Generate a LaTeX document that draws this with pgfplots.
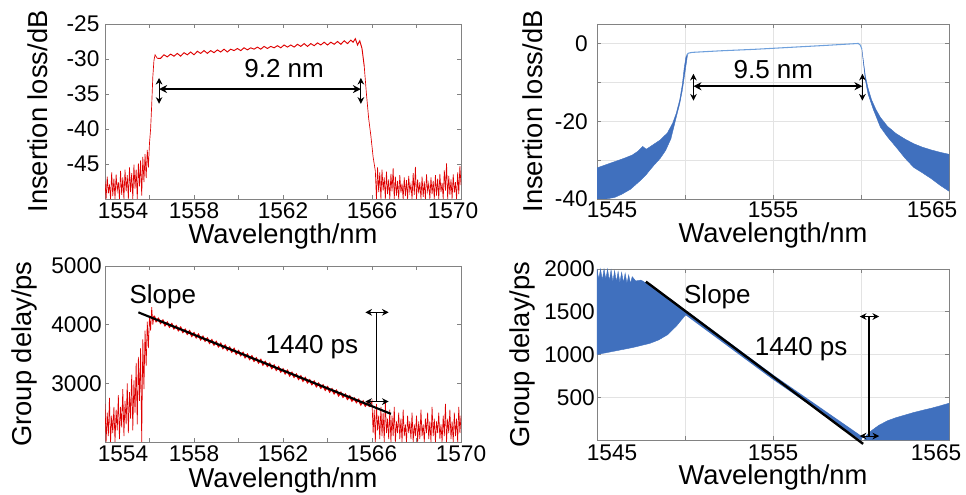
\documentclass[border=0pt]{standalone}
\usepackage{fontspec}
\setmainfont{Liberation Sans}
\usepackage{pgfplots}
\pgfplotsset{compat=1.18}
\usetikzlibrary{arrows.meta}
\definecolor{myred}{RGB}{222,0,0}
\definecolor{myblue}{RGB}{64,112,190}
\definecolor{lightblue}{RGB}{110,160,220}
\definecolor{frame}{RGB}{130,130,130}
\pgfplotsset{
  base/.style={
    scale only axis, anchor=south west,
    /pgf/number format/assume math mode=true,
    /pgf/number format/1000 sep={},
    tick align=inside, major tick length=3pt, minor tick length=3pt,
    axis line style={frame, line width=0.6pt},
    every tick/.style={frame, line width=0.5pt},
    tick label style={font=\fontsize{17}{20}\selectfont},
    label style={font=\fontsize{20.5}{23}\selectfont},
    yticklabel style={anchor=east, inner sep=0pt},
    xticklabel style={anchor=base, inner sep=0pt},
    scaled ticks=false,
  },
}
\tikzset{ann/.style={font=\fontsize{19.5}{22}\selectfont},
  dbl/.style={line width=0.8pt, {Stealth[length=5pt,width=5pt]}-{Stealth[length=5pt,width=5pt]}}}
\begin{document}
\begin{tikzpicture}
% ---------------- Top left: insertion loss (red)
\begin{axis}[base, at={(78.75pt,222pt)}, width=267pt, height=131.25pt,
  xmin=1554, xmax=1570, ymin=-50, ymax=-25,
  xtick={1554,1558,1562,1566,1570}, minor xtick={1556,1560,1564,1568},
  xticklabels={\hspace*{27pt}1554,1558,1562,1566,1570\hspace*{12pt}},
  ytick={-45,-40,-35,-30,-25},
  xticklabel style={yshift=-15pt}, yticklabel style={xshift=-4pt},
  xlabel={Wavelength/nm}, ylabel={Insertion loss/dB},
  xlabel style={at={(axis description cs:0.5,0)}, anchor=base, yshift=-33.75pt},
  ylabel style={at={(axis description cs:-0.188,0.5)}, anchor=center},
]
\addplot[myred, line width=0.5pt] coordinates {
(1554.00,-47.5)(1554.05,-50)(1554.10,-46.8)(1554.15,-49.2)(1554.20,-47.9)(1554.25,-50)
(1554.30,-46.2)(1554.35,-49.6)(1554.40,-47.1)(1554.45,-50)(1554.50,-46.5)(1554.55,-48.8)
(1554.60,-47.6)(1554.65,-50)(1554.70,-46.0)(1554.75,-49.4)(1554.80,-46.9)(1554.85,-50)
(1554.90,-45.8)(1554.95,-48.9)(1555.00,-46.6)(1555.05,-50)(1555.10,-45.5)(1555.15,-49.0)
(1555.20,-46.3)(1555.25,-50)(1555.30,-45.1)(1555.35,-48.5)(1555.40,-45.8)(1555.45,-50)
(1555.50,-44.9)(1555.55,-48.2)(1555.60,-44.5)(1555.65,-49.5)(1555.70,-44.0)(1555.75,-47.6)
(1555.80,-43.6)(1555.85,-47.0)(1555.90,-43.0)(1555.95,-45.5)(1556.00,-42.0)(1556.05,-40.0)
(1556.10,-36.5)(1556.15,-32.5)(1556.20,-30.2)(1556.25,-29.4)(1556.35,-29.9)
};
\addplot[myred, line width=0.7pt] coordinates {
(1556.35,-29.9)(1556.50,-29.9)(1556.65,-29.4)(1556.80,-29.7)(1556.95,-29.3)(1557.10,-29.6)(1557.25,-29.2)
(1557.40,-29.6)(1557.55,-29.1)(1557.70,-29.4)(1557.85,-29.0)(1558.00,-29.4)(1558.15,-28.9)
(1558.30,-29.2)(1558.45,-28.8)(1558.60,-29.2)(1558.75,-28.8)(1558.90,-29.1)(1559.05,-28.7)
(1559.20,-29.0)(1559.35,-28.6)(1559.50,-29.0)(1559.65,-28.6)(1559.80,-28.8)(1559.95,-28.5)
(1560.10,-28.8)(1560.25,-28.4)(1560.40,-28.7)(1560.55,-28.4)(1560.70,-28.6)(1560.85,-28.3)
(1561.00,-28.6)(1561.15,-28.2)(1561.30,-28.5)(1561.45,-28.2)(1561.60,-28.4)(1561.75,-28.1)
(1561.90,-28.4)(1562.05,-28.0)(1562.20,-28.3)(1562.35,-28.0)(1562.50,-28.3)(1562.65,-27.9)
(1562.80,-28.2)(1562.95,-27.8)(1563.10,-28.2)(1563.25,-27.8)(1563.40,-28.1)(1563.55,-27.7)
(1563.70,-28.0)(1563.85,-27.6)(1564.00,-28.0)(1564.15,-27.6)(1564.30,-27.9)(1564.45,-27.5)
(1564.60,-27.9)(1564.75,-27.4)(1564.90,-27.8)(1565.05,-27.3)(1565.15,-27.6)(1565.25,-27.1)
(1565.35,-28.0)(1565.45,-27.4)(1565.55,-28.5)(1565.65,-31)
};
\addplot[myred, line width=0.5pt] coordinates {
(1565.65,-31)(1565.75,-35)(1565.85,-38.5)
(1565.95,-41)(1566.05,-44)(1566.15,-46)(1566.20,-50)
(1566.25,-45.5)(1566.30,-49.0)(1566.35,-46.2)(1566.40,-50)(1566.45,-45.8)(1566.50,-48.8)
(1566.55,-46.9)(1566.60,-50)(1566.65,-46.1)(1566.70,-49.3)(1566.75,-47.2)(1566.80,-50)
(1566.85,-46.4)(1566.90,-48.9)(1566.95,-45.6)(1567.00,-50)(1567.05,-46.8)(1567.10,-49.5)
(1567.15,-47.4)(1567.20,-50)(1567.25,-46.6)(1567.30,-49.1)(1567.35,-47.8)(1567.40,-50)
(1567.45,-46.9)(1567.50,-49.6)(1567.55,-47.3)(1567.60,-50)(1567.65,-46.7)(1567.70,-49.0)
(1567.75,-47.9)(1567.80,-50)(1567.85,-46.3)(1567.90,-49.4)(1567.95,-45.4)(1568.00,-50)
(1568.05,-47.2)(1568.10,-49.2)(1568.15,-47.6)(1568.20,-50)(1568.25,-46.8)(1568.30,-49.7)
(1568.35,-47.5)(1568.40,-50)(1568.45,-46.5)(1568.50,-48.9)(1568.55,-47.8)(1568.60,-50)
(1568.65,-46.9)(1568.70,-49.3)(1568.75,-47.4)(1568.80,-50)(1568.85,-46.6)(1568.90,-49.5)
(1568.95,-47.1)(1569.00,-50)(1569.05,-46.4)(1569.10,-49.0)(1569.15,-47.7)(1569.20,-50)
(1569.25,-45.9)(1569.30,-48.8)(1569.35,-44.9)(1569.40,-50)(1569.45,-46.7)(1569.50,-49.4)
(1569.55,-47.2)(1569.60,-50)(1569.65,-46.5)(1569.70,-49.1)(1569.75,-47.6)(1569.80,-50)
(1569.85,-46.2)(1569.90,-49.3)(1569.95,-45.3)(1570.00,-48.0)
};
\draw[line width=1.8pt, {Stealth[length=6pt,width=6pt]}-{Stealth[length=6pt,width=6pt]}] (axis cs:1556.43,-34.3) -- (axis cs:1565.5,-34.3);
\draw[dbl] (axis cs:1556.43,-32.7) -- (axis cs:1556.43,-36.4);
\draw[dbl] (axis cs:1565.5,-32.7) -- (axis cs:1565.5,-36.4);
\node[ann] at (axis cs:1562.05,-31.3) {9.2 nm};
\end{axis}
% ---------------- Top right: insertion loss (blue)
\begin{axis}[base, at={(447.75pt,222pt)}, width=264pt, height=131.25pt,
  xmin=1545, xmax=1565, ymin=-40, ymax=5,
  xtick={1545,1550,1555,1560,1565}, xticklabels={\hspace*{22.5pt}1545,,1555,,1565\hspace*{25.5pt}},
  ytick={-40,-30,-20,-10,0}, yticklabels={-40,,-20,,0},
  grid=major, grid style={gray!22, line width=0.5pt},
  xticklabel style={yshift=-14.25pt}, yticklabel style={xshift=-6.75pt},
  xlabel={Wavelength/nm}, ylabel={Insertion loss/dB},
  xlabel style={at={(axis description cs:0.5,0)}, anchor=base, yshift=-32.6pt},
  ylabel style={at={(axis description cs:-0.182,0.5)}, anchor=center},
]
\addplot[myblue, fill=myblue, line width=0.3pt] coordinates {
(1545,-32)(1545.5,-31.2)(1546,-30.4)(1546.5,-29.6)(1547,-28.7)(1547.3,-27.8)(1547.6,-26.5)
(1547.8,-27.2)(1548.2,-26.0)(1548.6,-24.8)(1549,-23)(1549.3,-20.5)(1549.5,-18)(1549.7,-14.5)
(1549.85,-10.5)(1549.95,-6.5)(1550.05,-3.5)(1550.15,-2.7)
(1549.85,-12)(1549.7,-15.5)(1549.5,-19)(1549.2,-24.5)(1548.9,-27.5)(1548.6,-29.5)
(1548.2,-31.5)(1547.8,-33.7)(1547.4,-35.5)(1546.9,-37.5)(1546.4,-38.8)(1546,-39.6)
(1545.5,-40)(1545,-40)
} -- cycle;
\addplot[myblue, fill=myblue, line width=0.3pt] coordinates {
(1560.05,-1.5)(1560.15,-5)(1560.25,-8.5)(1560.4,-11.5)(1560.6,-14.5)(1560.85,-17)
(1561.1,-19)(1561.5,-21.3)(1562,-23.2)(1562.5,-24.6)(1563,-25.8)(1563.5,-26.7)
(1564,-27.4)(1564.5,-28)(1565,-28.5)
(1565,-38)(1564.5,-36.5)(1564,-34.8)(1563.5,-33.3)(1563,-31.9)(1562.5,-29.5)
(1562,-26.7)(1561.5,-24)(1561.1,-21.5)(1560.7,-17)(1560.4,-13)(1560.25,-9.5)
} -- cycle;
\addplot[lightblue, line width=0.8pt] coordinates {
(1550.1,-3.0)(1550.2,-2.5)(1550.4,-2.3)(1552,-1.9)(1554,-1.5)(1556,-1.0)(1558,-0.5)
(1559.5,-0.1)(1559.85,0)(1559.97,-0.5)(1560.05,-1.5)
};
\draw[line width=1.8pt, {Stealth[length=6pt,width=6pt]}-{Stealth[length=6pt,width=6pt]}] (axis cs:1550.48,-11) -- (axis cs:1560.08,-11);
\draw[dbl] (axis cs:1550.48,-7.8) -- (axis cs:1550.48,-14.7);
\draw[dbl] (axis cs:1560.08,-7.8) -- (axis cs:1560.08,-14.7);
\node[ann] at (axis cs:1555.02,-6.7) {9.5 nm};
\end{axis}
% ---------------- Bottom left: group delay (red)
\begin{axis}[base, at={(78.75pt,39.75pt)}, width=267pt, height=132pt,
  xmin=1554, xmax=1570, ymin=2000, ymax=5000,
  xtick={1554,1558,1562,1566,1570}, minor xtick={1556,1560,1564,1568},
  xticklabels={\hspace*{27pt}1554,1558,1562,1566,1570},
  ytick={3000,4000,5000},
  xticklabel style={yshift=-15pt}, yticklabel style={xshift=-2.25pt},
  xlabel={Wavelength/nm}, ylabel={Group delay/ps},
  xlabel style={at={(axis description cs:0.5,0)}, anchor=base, yshift=-34pt},
  ylabel style={at={(axis description cs:-0.225,0.5)}, anchor=center},
]
\addplot[myred, line width=0.5pt] coordinates {
(1554.00,2650)(1554.05,2000)(1554.10,2500)(1554.15,2100)(1554.20,2750)(1554.25,2000)
(1554.30,2450)(1554.35,2150)(1554.40,2600)(1554.45,2000)(1554.50,2550)(1554.55,2200)
(1554.60,2800)(1554.65,2050)(1554.70,2600)(1554.75,2250)(1554.80,2900)(1554.85,2100)
(1554.90,2700)(1554.95,2300)(1555.00,3000)(1555.05,2150)(1555.10,2850)(1555.15,2400)
(1555.20,3150)(1555.25,2200)(1555.30,3050)(1555.35,2500)(1555.40,3350)(1555.45,2300)
(1555.50,3450)(1555.55,2700)(1555.60,3600)(1555.65,2000)(1555.70,3750)(1555.75,2900)
(1555.80,3900)(1555.85,3300)(1555.90,4050)(1555.95,3600)(1556.00,4150)(1556.05,3900)
(1556.10,4300)(1556.15,4000)(1556.20,4150)
};
\addplot[myred, line width=1.3pt] coordinates {
(1556.20,4150)(1556.3,4060)
(1556.4,4100)(1556.5,4030)(1556.6,4070)(1556.7,3990)(1556.8,4035)(1556.9,3965)(1557.0,4010)
(1557.1,3935)(1557.2,3975)(1557.3,3905)(1557.4,3950)(1557.5,3875)(1557.6,3915)(1557.7,3845)
(1557.8,3890)(1557.9,3810)(1558.0,3855)(1558.1,3785)(1558.2,3830)(1558.3,3750)(1558.4,3795)
(1558.5,3725)(1558.6,3765)(1558.7,3690)(1558.8,3735)(1558.9,3660)(1559.0,3705)(1559.1,3630)
(1559.2,3675)(1559.3,3600)(1559.4,3645)(1559.5,3570)(1559.6,3610)(1559.7,3540)(1559.8,3585)
(1559.9,3505)(1560.0,3550)(1560.1,3480)(1560.2,3520)(1560.3,3445)(1560.4,3490)(1560.5,3415)
(1560.6,3460)(1560.7,3385)(1560.8,3425)(1560.9,3355)(1561.0,3400)(1561.1,3320)(1561.2,3365)
(1561.3,3295)(1561.4,3335)(1561.5,3260)(1561.6,3305)(1561.7,3230)(1561.8,3275)(1561.9,3200)
(1562.0,3240)(1562.1,3170)(1562.2,3215)(1562.3,3135)(1562.4,3180)(1562.5,3110)(1562.6,3150)
(1562.7,3075)(1562.8,3120)(1562.9,3045)(1563.0,3090)(1563.1,3015)(1563.2,3055)(1563.3,2985)
(1563.4,3030)(1563.5,2950)(1563.6,2995)(1563.7,2925)(1563.8,2965)(1563.9,2890)(1564.0,2935)
(1564.1,2860)(1564.2,2900)(1564.3,2830)(1564.4,2875)(1564.5,2795)(1564.6,2840)(1564.7,2770)
(1564.8,2810)(1564.9,2735)(1565.0,2780)(1565.1,2705)(1565.2,2745)(1565.3,2680)(1565.4,2720)
(1565.5,2640)(1565.6,2690)(1565.7,2620)(1565.8,2670)(1565.9,2600)
};
\addplot[myred, line width=0.5pt] coordinates {
(1565.9,2600)
(1566.00,2700)(1566.05,2150)(1566.10,2550)(1566.15,2000)(1566.20,2650)(1566.25,2200)
(1566.30,2450)(1566.35,2050)(1566.40,2600)(1566.45,2100)(1566.50,2500)(1566.55,2000)
(1566.60,2700)(1566.65,2150)(1566.70,2400)(1566.75,2050)(1566.80,2550)(1566.85,2000)
(1566.90,2450)(1566.95,2100)(1567.00,2600)(1567.05,2000)(1567.10,2350)(1567.15,2150)
(1567.20,2500)(1567.25,2050)(1567.30,2400)(1567.35,2000)(1567.40,2550)(1567.45,2100)
(1567.50,2300)(1567.55,2000)(1567.60,2450)(1567.65,2150)(1567.70,2350)(1567.75,2050)
(1567.80,2500)(1567.85,2000)(1567.90,2300)(1567.95,2100)(1568.00,2450)(1568.05,2000)
(1568.10,2350)(1568.15,2050)(1568.20,2550)(1568.25,2100)(1568.30,2300)(1568.35,2000)
(1568.40,2400)(1568.45,2150)(1568.50,2500)(1568.55,2050)(1568.60,2350)(1568.65,2000)
(1568.70,2600)(1568.75,2100)(1568.80,2400)(1568.85,2000)(1568.90,2350)(1568.95,2150)
(1569.00,2500)(1569.05,2050)(1569.10,2300)(1569.15,2000)(1569.20,2450)(1569.25,2100)
(1569.30,2650)(1569.35,2000)(1569.40,2400)(1569.45,2150)(1569.50,2550)(1569.55,2050)
(1569.60,2350)(1569.65,2000)(1569.70,2500)(1569.75,2100)(1569.80,2400)(1569.85,2000)
(1569.90,2600)(1569.95,2150)(1570.00,2450)
};
\draw[black, line width=1.6pt] (axis cs:1555.5,4210) -- (axis cs:1566.85,2480);
\draw[black, line width=1pt] (axis cs:1566.2,4210) -- (axis cs:1566.2,2690);
\draw[dbl] (axis cs:1565.7,4210) -- (axis cs:1566.75,4210);
\draw[dbl] (axis cs:1565.7,2690) -- (axis cs:1566.75,2690);
\node[ann] at (axis cs:1556.6,4477) {Slope};
\node[ann] at (axis cs:1563.3,3625) {1440 ps};
\end{axis}
% ---------------- Bottom right: group delay (blue)
\begin{axis}[base, at={(447.75pt,41.25pt)}, width=264pt, height=128.25pt,
  xmin=1545, xmax=1565, ymin=0, ymax=2000, clip=false,
  xtick={1545,1550,1555,1560,1565}, xticklabels={\hspace*{22.5pt}1545,,1555,,1565\hspace*{19.5pt}},
  ytick={500,1000,1500,2000},
  grid=major, grid style={gray!22, line width=0.5pt},
  xticklabel style={yshift=-15.75pt}, yticklabel style={xshift=-1.5pt},
  xlabel={Wavelength/nm}, ylabel={Group delay/ps},
  xlabel style={at={(axis description cs:0.5,0)}, anchor=base, yshift=-33.5pt},
  ylabel style={at={(axis description cs:-0.213,0.5)}, anchor=center},
]
\addplot[myblue, fill=myblue, line width=0.3pt] coordinates {
(1545,2000)(1545.1,1880)(1545.2,2000)(1545.3,1870)(1545.4,2000)(1545.5,1880)(1545.6,2000)
(1545.7,1860)(1545.8,1990)(1545.9,1850)(1546.0,1980)(1546.1,1850)(1546.2,1970)(1546.3,1840)
(1546.4,1960)(1546.5,1840)(1546.6,1950)(1546.7,1830)(1546.8,1930)(1546.9,1830)(1547.0,1910)
(1547.2,1860)(1547.5,1870)(1548,1810)(1548.5,1740)(1549,1670)(1549.5,1590)(1550,1500)
(1550.15,1470)
(1550,1455)(1549.5,1330)(1549,1230)(1548.5,1170)(1548,1130)(1547,1080)(1546,1040)(1545,1000)
} -- cycle;
\addplot[myblue, line width=3pt] coordinates {(1550.1,1480)(1555,735)(1560.05,15)};
\addplot[myblue, fill=myblue, line width=0.3pt] coordinates {
(1560.2,0)(1560.3,50)(1560.5,95)(1561,170)(1561.5,225)(1562,262)(1562.5,292)(1563,322)
(1563.5,348)(1564,372)(1564.5,400)(1565,430)(1565,0)
} -- cycle;
\draw[black, line width=1.8pt] (axis cs:1547.78,1852) -- (axis cs:1560.12,-45);
\draw[black, line width=1pt] (axis cs:1560.46,1444) -- (axis cs:1560.46,46);
\draw[dbl] (axis cs:1559.93,1444) -- (axis cs:1561.03,1444);
\draw[dbl] (axis cs:1559.93,46) -- (axis cs:1561.03,46);
\node[ann] at (axis cs:1551.84,1677) {Slope};
\node[ann] at (axis cs:1556.6,1068) {1440 ps};
\end{axis}
\pgfresetboundingbox
\path[use as bounding box] (0,0) rectangle (724.5pt,371.25pt);
\end{tikzpicture}
\end{document}
